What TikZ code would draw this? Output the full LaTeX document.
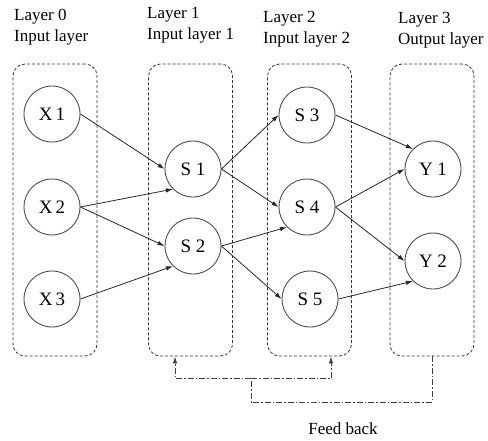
\documentclass[tikz,border=0pt]{standalone}
\usepackage{fontspec}
\setmainfont{Liberation Serif}
\usetikzlibrary{arrows.meta,positioning}

\tikzset{>={Latex[length=7pt,width=4.5pt]}}
\colorlet{mygray}{black!70}
\tikzstyle{unit}=[circle,draw=mygray,line width=0.9pt,minimum size=56pt,inner sep=0pt,font=\fontsize{19}{22}\selectfont]
\tikzstyle{layerbox}=[draw=black!80,line width=0.8pt,dash pattern=on 3pt off 2pt,rounded corners=12pt,minimum width=84pt,minimum height=292pt,inner sep=0pt]
\tikzstyle{link}=[->,black!85,line width=0.8pt]
\tikzstyle{feedback}=[black!75,line width=0.8pt,dash pattern=on 6pt off 2pt on 1.5pt off 2pt]
\tikzstyle{title}=[anchor=north west,align=left,inner sep=0pt,font=\fontsize{17}{21}\selectfont]

\begin{document}
\begin{tikzpicture}[x=1pt,y=-1pt]
  \useasboundingbox (0,0) rectangle (488,440);
  \def\ybox{210}
  % layer frames
  \node[layerbox] (L0) at (55,\ybox) {};
  \node[layerbox] (L1) at (190.5,\ybox) {};
  \node[layerbox] (L2) at (309.5,\ybox) {};
  \node[layerbox] (L3) at (432,\ybox) {};
  % layer titles
  \node[title] (lab0) at (14,9) {Layer 0\\Input layer};
  \node[title] (lab1) at (147,7.5) {Layer 1\\Input layer 1};
  \node[title] (lab2) at (263,11) {Layer 2\\Input layer 2};
  \node[title] (lab3) at (398,12.5) {Layer 3\\Output layer};
  % units
  \node[unit] (X1) at (52,114) {X\,1};
  \node[unit] (X2) at (52,207) {X\,2};
  \node[unit] (X3) at (52,299) {X\,3};
  \node[unit] (S1) at (193,169) {S 1};
  \node[unit] (S2) at (193,246) {S 2};
  \node[unit] (S3) at (307,115) {S 3};
  \node[unit] (S4) at (307,207) {S 4};
  \node[unit] (S5) at (310,299) {S 5};
  \node[unit] (Y1) at (433,169) {Y 1};
  \node[unit] (Y2) at (433,261) {Y 2};
  % connections
  \draw[link] (X1.east) -- (S1.west);
  \draw[link] (X2.east) -- (S1.south west);
  \draw[link] (X2.east) -- (S2.west);
  \draw[link] (X3.east) -- (S2.south west);
  \draw[link] (S1.east) -- (S3.west);
  \draw[link] (S1.east) -- (S4.west);
  \draw[link] (S2.east) -- (S4.south west);
  \draw[link] (S2.east) -- (S5.west);
  \draw[link] (S3.east) -- (Y1.north west);
  \draw[link] (S4.east) -- (Y1.west);
  \draw[link] (S4.east) -- (Y2.west);
  \draw[link] (S5.east) -- (Y2.south west);
  % feed back
  \coordinate (fbbase) at (251,402);
  \coordinate (fbjoin) at (251,378);
  \draw[feedback] (L3.south) |- (fbbase) -- (fbjoin);
  \draw[feedback,->] (fbjoin) -| ([xshift=-15.5pt]L1.south);
  \draw[feedback,->] (fbjoin) -| ([xshift=21.5pt]L2.south);
  \node[font=\fontsize{17}{20}\selectfont] (fblab) at (343,429) {Feed back};
\end{tikzpicture}
\end{document}
